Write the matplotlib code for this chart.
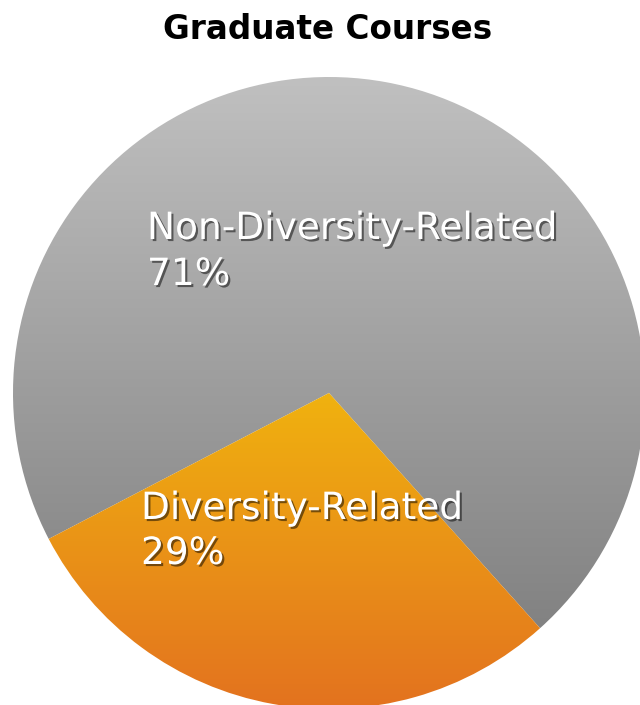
import numpy as np
import matplotlib
matplotlib.use("Agg")
import matplotlib.pyplot as plt
from matplotlib.patches import Wedge
import matplotlib.patheffects as pe

title = "Graduate Courses"
categories = ["Non-Diversity-Related", "Diversity-Related"]
shares = [71, 29]
start_angle = -48.1

# gradient stops (top colour, bottom colour) per slice
grad_top = ["#c0c0c0", "#f0b20f"]
grad_bottom = ["#828282", "#e3721f"]

W, H = 640, 705
fig = plt.figure(figsize=(W / 100, H / 100), dpi=100)
ax = fig.add_axes([0, 0, 1, 1])
ax.set_xlim(0, W)
ax.set_ylim(H, 0)
ax.axis("off")

cx, cy, r = 329, 393, 316


def hex2rgb(h):
    h = h.lstrip("#")
    return np.array([int(h[i:i + 2], 16) / 255 for i in (0, 2, 4)])


total = sum(shares)
theta = start_angle
for i, (cat, val) in enumerate(zip(categories, shares)):
    span = 360 * val / total
    t1, t2 = theta, theta + span
    # y is inverted in this axes, so mirror the angles
    wedge = Wedge((cx, cy), r, -t2, -t1, facecolor="none", edgecolor="none")
    ax.add_patch(wedge)
    # vertical extent of the slice for its gradient
    angs = np.radians(np.linspace(t1, t2, 400))
    ys = np.concatenate([[cy], cy - r * np.sin(angs)])
    y0, y1 = ys.min(), ys.max()
    yy = np.linspace(0, 1, 256)[:, None]
    c0, c1 = hex2rgb(grad_top[i]), hex2rgb(grad_bottom[i])
    img = (c0[None, None, :] * (1 - yy[..., None]) + c1[None, None, :] * yy[..., None])
    img = np.repeat(img, 2, axis=1)
    im = ax.imshow(img, extent=[cx - r, cx + r, y1, y0], aspect="auto",
                   interpolation="bilinear", zorder=1)
    im.set_clip_path(wedge)
    theta = t2

ax.set_xlim(0, W)
ax.set_ylim(H, 0)

ax.text(328, 39, title, ha="center", va="baseline", fontsize=23.5,
        fontweight="semibold", family="DejaVu Sans", color="black")

shadow = [pe.SimplePatchShadow(offset=(1.5, -1.5), shadow_rgbFace="black", alpha=0.5),
          pe.Normal()]

# (x, baseline of name, baseline of percentage) for each label block
label_pos = [(147, 239, 285), (141, 519, 564)]
for (x, yname, ypct), cat, val in zip(label_pos, categories, shares):
    for y, s in ((yname, cat), (ypct, f"{val}%")):
        ax.text(x, y, s, ha="left", va="baseline", fontsize=27,
                family="DejaVu Sans", color="white",
                path_effects=shadow, zorder=5)

fig.savefig("out.png", dpi=100)
